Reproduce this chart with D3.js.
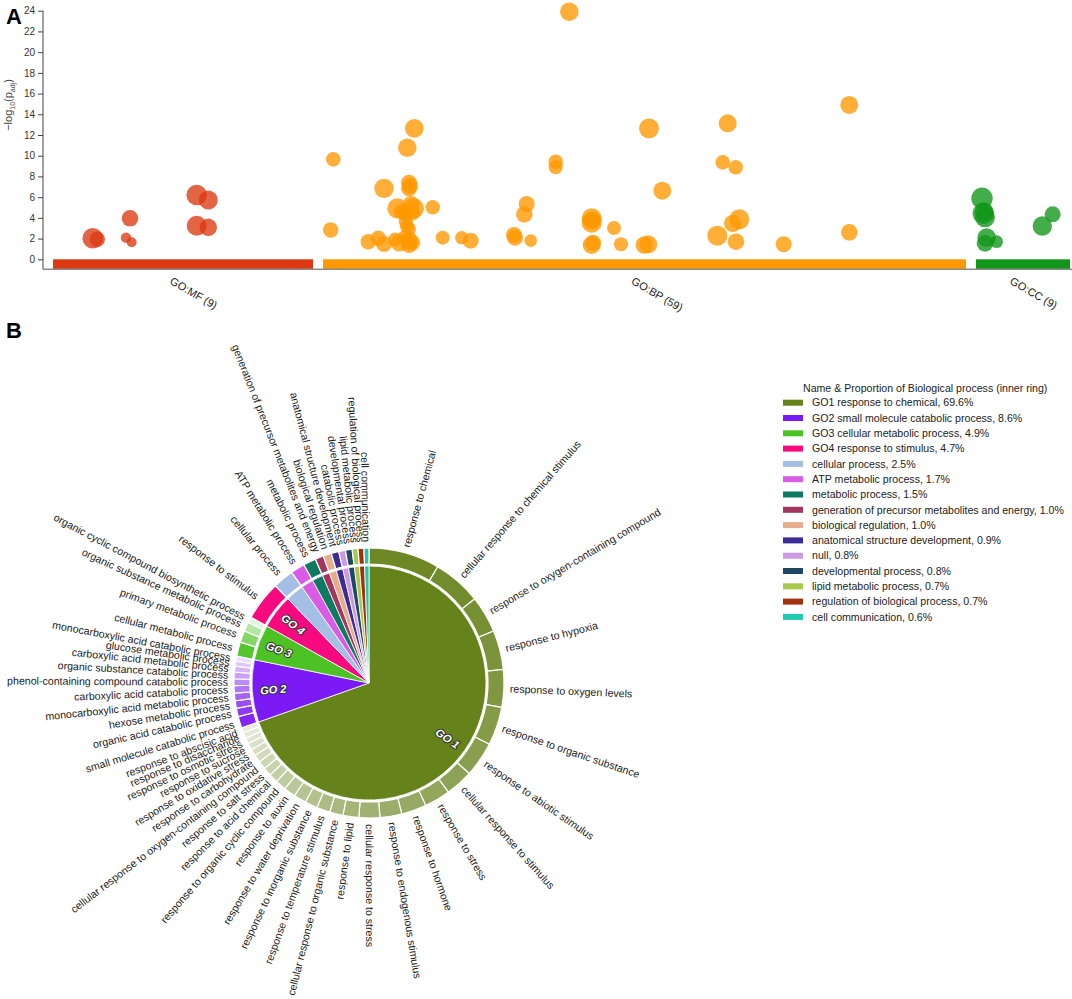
<!DOCTYPE html>
<html>
<head>
<meta charset="utf-8">
<script src="https://cdn.jsdelivr.net/npm/d3@7"></script>
<style>
  body { margin: 0; background: #fff; }
  svg { font-family: "Liberation Sans", Arial, sans-serif; }
</style>
</head>
<body>
<svg id="fig" width="1072" height="999"></svg>
<script>
// ---------- panel A data ----------
var sourceNames = ["GO:MF", "GO:BP", "GO:CC"];
var sourceCounts = [9, 59, 9];
var sourceColors = ["#dc3912", "#ff9900", "#109618"];
var sourceSpans = [260, 643, 94];   // term-space length of each source
var sourceGap = 10;
var yTicks = [0, 2, 4, 6, 8, 10, 12, 14, 16, 18, 20, 22, 24];

// position inside source, -log10(padj), term size
var mfPos = [39.7, 44.3, 77, 73, 78.7, 143.7, 155.3, 143.7, 155.3];
var mfLogP = [2.03, 1.93, 3.96, 2.09, 1.64, 6.2, 5.72, 3.24, 3.09];
var mfTermSize = [1750, 980, 1140, 450, 410, 1750, 1490, 1650, 1250];

var bpPos = [10.3, 7.7, 91.3, 84.3, 61, 86, 86, 74.3, 91, 82.7, 82.7, 86, 109.7, 45.3, 55.3, 61, 76.3, 86, 86, 119.7,
  138.7, 147.7, 246.3, 326, 232.7, 232.7, 339.3, 203.7, 201.3, 191, 192, 207.7, 268.7, 268.7, 268.7, 291, 298, 321.3, 325.3,
  404.7, 399.7, 412.7, 416.3, 409.7, 394.3, 413, 460.7, 526.3, 526.3, 79, 88, 89, 72, 84, 82, 87, 89, 269, 270];
var bpLogP = [9.65, 2.83, 12.64, 10.77, 6.85, 7.39, 6.85, 4.92, 4.92, 4.44, 3.63, 2.9, 5.02, 1.70, 2.03, 1.48, 1.60, 1.80, 1.38, 2.09,
  2.09, 1.80, 23.9, 12.64, 9.42, 8.88, 6.62, 5.34, 4.34, 2.35, 2.09, 1.80, 3.96, 3.53, 1.38, 3.02, 1.45, 1.38, 1.45,
  13.13, 9.36, 8.88, 3.86, 3.47, 2.28, 1.70, 1.45, 14.9, 2.6, 4.6, 5.3, 1.6, 1.9, 3.2, 2.1, 7.1, 4.5, 3.75, 1.6];
var bpTermSize = [880, 980, 1430, 1430, 1555, 1060, 1060, 1650, 1650, 1060, 810, 810, 880, 980, 980, 1060, 1250, 1340, 1060, 810,
  740, 1060, 1430, 1650, 880, 810, 1340, 1060, 1140, 1060, 1060, 660, 1650, 1650, 1340, 810, 810, 1250, 1340,
  1340, 880, 880, 1650, 1250, 1650, 1140, 1060, 1340, 1140, 1060, 1190, 1060, 810, 810, 930, 1060, 1060, 1340, 1060];

var ccPos = [6, 7.3, 9, 10.7, 9, 20.7, 66.3, 76.7, 8];
var ccLogP = [5.89, 4.44, 4.05, 2.09, 1.54, 1.70, 3.21, 4.34, 4.6];
var ccTermSize = [1890, 1890, 1650, 1430, 1140, 660, 1555, 1060, 1340];

// ---------- panel B data ----------
var innerNames = ["GO1 response to chemical", "GO2 small molecule catabolic process", "GO3 cellular metabolic process",
  "GO4 response to stimulus", "cellular process", "ATP metabolic process", "metabolic process",
  "generation of precursor metabolites and energy", "biological regulation", "anatomical structure development",
  "null", "developmental process", "lipid metabolic process", "regulation of biological process", "cell communication"];
var innerValues = [69.6, 8.6, 4.9, 4.7, 2.5, 1.7, 1.5, 1.0, 1.0, 0.9, 0.8, 0.8, 0.7, 0.7, 0.6];
var innerTags = ["GO 1", "GO 2", "GO 3", "GO 4"];
var innerColors = ["#66821b", "#7b1af5", "#4cc224", "#f7097f", "#a3bfe6", "#da5ce6", "#0e7a62", "#a6345e",
  "#e6ad8c", "#3b2b96", "#cc99e6", "#1f4866", "#a6c94a", "#a1300f", "#1fc9b2"];

var childNames = [
  ["response to chemical", "cellular response to chemical stimulus", "response to oxygen-containing compound",
   "response to hypoxia", "response to oxygen levels", "response to organic substance", "response to abiotic stimulus",
   "cellular response to stimulus", "response to stress", "response to hormone", "response to endogenous stimulus",
   "cellular response to stress", "response to lipid", "cellular response to organic substance",
   "response to temperature stimulus", "response to inorganic substance", "response to water deprivation",
   "response to auxin", "response to organic cyclic compound", "response to acid chemical", "response to salt stress",
   "cellular response to oxygen-containing compound", "response to carbohydrate", "response to oxidative stress",
   "response to sucrose", "response to osmotic stress", "response to disaccharide", "response to abscisic acid"],
  ["small molecule catabolic process", "organic acid catabolic process", "hexose metabolic process",
   "monocarboxylic acid metabolic process", "carboxylic acid catabolic process",
   "phenol-containing compound catabolic process", "organic substance catabolic process",
   "carboxylic acid metabolic process", "glucose metabolic process", "monocarboxylic acid catabolic process"],
  ["cellular metabolic process", "primary metabolic process", "organic substance metabolic process",
   "organic cyclic compound biosynthetic process"],
  ["response to stimulus"], ["cellular process"], ["ATP metabolic process"], ["metabolic process"],
  ["generation of precursor metabolites and energy"], ["biological regulation"], ["anatomical structure development"],
  ["catabolic process"], ["developmental process"], ["lipid metabolic process"], ["regulation of biological process"],
  ["cell communication"]
];
var childValues = [
  [8.5, 5.8, 4.4, 4.7, 4.5, 4.6, 4.2, 3.3, 3.1, 3.0, 2.6, 2.5, 1.9, 1.6, 1.6, 1.5, 1.5, 1.4, 1.3, 1.1, 1.0, 1.0,
   0.9, 0.8, 0.8, 0.7, 0.7, 0.6],
  [1.4, 1.0, 0.9, 0.9, 0.9, 0.8, 0.8, 0.7, 0.6, 0.6],
  [1.7, 1.4, 1.1, 0.7],
  [4.7], [2.5], [1.7], [1.5], [1.0], [1.0], [0.9], [0.8], [0.8], [0.7], [0.7], [0.6]
];

var svg = d3.select("#fig");
var labelSize = "10.6px";

// ================= PANEL A =================
(function() {
  var y = d3.scaleLinear().domain([0, 24]).range([259.3, 10.7]);
  var base = y(0) + 10;
  var total = d3.sum(sourceSpans) + sourceGap * (sourceSpans.length - 1);
  var x = d3.scaleLinear().domain([0, total]).range([53, 1070]);
  var r = d3.scaleSqrt().domain([0, 2000]).range([0, 11]);

  var starts = [];
  var acc = 0;
  sourceSpans.forEach(function(s) { starts.push(acc); acc += s + sourceGap; });

  var g = svg.append("g");

  // bars per source
  g.selectAll(".src").data(sourceNames).enter().append("rect")
    .attr("x", function(d, i) { return x(starts[i]); })
    .attr("width", function(d, i) { return x(starts[i] + sourceSpans[i]) - x(starts[i]); })
    .attr("y", y(0))
    .attr("height", base - y(0))
    .attr("fill", function(d, i) { return sourceColors[i]; });

  // x baseline
  g.append("line").attr("x1", 43).attr("x2", 1072).attr("y1", base).attr("y2", base)
    .attr("stroke", "#8a8a8a").attr("stroke-width", 1.5);

  // y axis
  var yAxis = d3.axisLeft(y).tickValues(yTicks).tickSize(5).tickSizeOuter(0).tickPadding(3);
  var ya = g.append("g").attr("transform", "translate(43,0)").call(yAxis);
  ya.select(".domain").remove();
  ya.selectAll("text").style("font-size", "10px").attr("fill", "#333");
  ya.selectAll("line").attr("stroke", "#444");
  g.append("line").attr("x1", 43).attr("x2", 43).attr("y1", y(24)).attr("y2", base)
    .attr("stroke", "#444").attr("stroke-width", 1);

  // y label
  var yl = g.append("text").attr("transform", "translate(12,105) rotate(-90)")
    .attr("text-anchor", "middle").style("font-size", "11px").attr("fill", "#444");
  yl.append("tspan").text("\u2212log");
  yl.append("tspan").text("10").style("font-size", "7px").attr("dy", 3);
  yl.append("tspan").text("(p").attr("dy", -3);
  yl.append("tspan").text("adj").style("font-size", "7px").attr("dy", 3);
  yl.append("tspan").text(")").attr("dy", -3);

  // points
  var sets = [[mfPos, mfLogP, mfTermSize], [bpPos, bpLogP, bpTermSize], [ccPos, ccLogP, ccTermSize]];
  sets.forEach(function(set, si) {
    var pts = set[0].map(function(p, k) { return { pos: p, v: set[1][k], size: set[2][k] }; });
    g.append("g").selectAll("circle").data(pts).enter().append("circle")
      .attr("cx", function(d) { return x(starts[si] + d.pos); })
      .attr("cy", function(d) { return y(d.v); })
      .attr("r", function(d) { return r(d.size); })
      .attr("fill", sourceColors[si])
      .attr("fill-opacity", 0.78);
  });

  // source labels
  g.selectAll(".srclab").data(sourceNames).enter().append("text")
    .attr("transform", function(d, i) {
      var cx = x(starts[i] + sourceSpans[i] / 2);
      return "translate(" + (cx - 14) + "," + (base + 14) + ") rotate(30)";
    })
    .style("font-size", "11px").attr("fill", "#222")
    .text(function(d, i) { return d + " (" + sourceCounts[i] + ")"; });

  svg.append("text").attr("x", 6).attr("y", 24).style("font-size", "22px").style("font-weight", "bold")
    .text("A");
})();

// ================= PANEL B =================
(function() {
  svg.append("text").attr("x", 6).attr("y", 338).style("font-size", "22px").style("font-weight", "bold")
    .text("B");

  var g = svg.append("g").attr("transform", "translate(369,683)");
  var pie = d3.pie().sort(null).value(function(d) { return d; });
  var innerArcs = pie(innerValues);
  var arcIn = d3.arc().innerRadius(0).outerRadius(117);
  var arcOut = d3.arc().innerRadius(119).outerRadius(135);

  var outerData = [];
  innerArcs.forEach(function(a, i) {
    var vals = childValues[i];
    var tot = d3.sum(vals), cum = 0;
    vals.forEach(function(v, j) {
      var s = a.startAngle + (a.endAngle - a.startAngle) * cum / tot;
      cum += v;
      var e = a.startAngle + (a.endAngle - a.startAngle) * cum / tot;
      var t = vals.length > 1 ? 0.05 + 0.8 * j / (vals.length - 1) : 0;
      outerData.push({ startAngle: s, endAngle: e, name: childNames[i][j],
        color: d3.interpolateRgb(innerColors[i], "#ffffff")(t) });
    });
  });

  g.selectAll(".inner").data(innerArcs).enter().append("path")
    .attr("d", arcIn)
    .attr("fill", function(d, i) { return innerColors[i]; })
    .attr("stroke", "#fff").attr("stroke-width", 0.8);

  g.selectAll(".outer").data(outerData).enter().append("path")
    .attr("d", arcOut)
    .attr("fill", function(d) { return d.color; })
    .attr("stroke", "#fff").attr("stroke-width", 1.2);

  function radial(angle, rad) {
    var deg = angle * 180 / Math.PI;
    var tr = "rotate(" + (deg - 90) + ") translate(" + rad + ",0)";
    return deg > 180 ? tr + " rotate(180)" : tr;
  }
  function mid(d) { return (d.startAngle + d.endAngle) / 2; }

  g.selectAll(".olab").data(outerData).enter().append("text")
    .attr("transform", function(d) { return radial(mid(d), 141); })
    .attr("text-anchor", function(d) { return mid(d) > Math.PI ? "end" : "start"; })
    .attr("dy", "0.35em")
    .style("font-size", labelSize).attr("fill", "#1a1a1a")
    .text(function(d) { return d.name; });

  g.selectAll(".ilab").data(innerArcs.slice(0, innerTags.length)).enter().append("text")
    .attr("transform", function(d) { return radial(mid(d), 96); })
    .attr("text-anchor", "middle").attr("dy", "0.35em")
    .style("font-size", "11px").style("font-weight", "bold").style("font-style", "italic")
    .attr("fill", "#fff").attr("stroke", "#333").attr("stroke-width", 2).attr("paint-order", "stroke")
    .text(function(d, i) { return innerTags[i]; });

  // legend
  var lg = svg.append("g");
  lg.append("text").attr("x", 803).attr("y", 392).style("font-size", labelSize).attr("fill", "#222")
    .text("Name & Proportion of Biological process (inner ring)");
  var rows = lg.selectAll(".row").data(innerNames).enter().append("g")
    .attr("transform", function(d, i) { return "translate(783," + (402.7 + i * 15.3) + ")"; });
  rows.append("rect").attr("x", 0).attr("y", -3).attr("width", 20).attr("height", 6)
    .attr("fill", function(d, i) { return innerColors[i]; });
  rows.append("text").attr("x", 29).attr("dy", "0.35em").style("font-size", labelSize).attr("fill", "#222")
    .text(function(d, i) { return d + ", " + innerValues[i].toFixed(1) + "%"; });
})();
</script>
</body>
</html>
